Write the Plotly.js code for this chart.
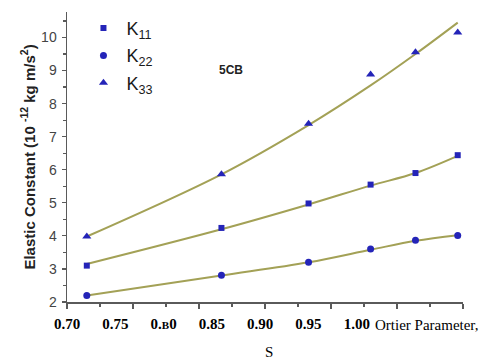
<!DOCTYPE html>
<html><head><meta charset="utf-8">
<script src="https://cdn.plot.ly/plotly-3.0.1.min.js"></script>
<style>html,body{margin:0;padding:0;background:#fff}#chart{width:483px;height:360px}</style>
</head><body><div id="chart"></div>
<script>
// Order parameter S and elastic constants of 5CB (units of 10^-12 kg m/s^2)
const orderS = [0.715, 0.817, 0.883, 0.930, 0.964, 0.996];
const k11 = [3.10, 4.24, 4.98, 5.55, 5.90, 6.44];
const k22 = [2.20, 2.81, 3.20, 3.60, 3.87, 4.01];
const k33 = [3.98, 5.86, 7.39, 8.88, 9.55, 10.15];
// fitted curves, read at the same S values
const fitK11 = [3.15, 4.20, 4.95, 5.52, 5.90, 6.42];
const fitK22 = [2.20, 2.80, 3.20, 3.58, 3.85, 4.02];
const fitK33 = [3.98, 5.86, 7.35, 8.55, 9.50, 10.45];
// printed scale under the axis
const labelVals = [0.70, 0.75, 0.80, 0.85, 0.90, 0.95, 1.00];
const labelText = ['0.70', '0.75', '0.<span style="font-size:11px">B</span>0', '0.85', '0.90', '0.95', '1.00'];

const markerBlue = '#2424b8';
const fitColor = '#a3a156';

function fit(y) {
  return {x: orderS, y: y, mode: 'lines', line: {color: fitColor, width: 2, shape: 'spline', smoothing: 1},
          showlegend: false, hoverinfo: 'skip'};
}
function pts(y, sym, size, name) {
  return {x: orderS, y: y, mode: 'markers', name: name, legendgroup: name,
          marker: {symbol: sym, size: size, color: markerBlue, line: {width: 0}}};
}

const data = [
  fit(fitK11), fit(fitK22), fit(fitK33),
  pts(k11, 'square', 6, 'K<sub>11</sub>'),
  pts(k22, 'circle', 7, 'K<sub>22</sub>'),
  pts(k33, 'triangle-up', 8, 'K<sub>33</sub>'),
  {x: [], y: [], xaxis: 'x2', mode: 'markers', showlegend: false, hoverinfo: 'skip'}
];

const axisGray = '#5a5a5a';
const sans = 'Arial, Liberation Sans, sans-serif';
const serif = 'Liberation Serif, Times New Roman, serif';
const layout = {
  width: 483, height: 360,
  margin: {l: 67, r: 20, t: 11, b: 58},
  paper_bgcolor: '#fff', plot_bgcolor: '#fff',
  showlegend: true,
  legend: {x: 0.034, y: 1.004, xanchor: 'left', yanchor: 'top', bgcolor: 'rgba(0,0,0,0)',
           itemwidth: 36, tracegroupgap: 1,
           font: {family: sans, size: 18, color: '#1a1a1a'}},
  xaxis: {
    range: [0.70, 1.00], dtick: 0.05, tick0: 0.70,
    showgrid: false, zeroline: false, showline: true, linecolor: axisGray, linewidth: 1.5,
    ticks: 'outside', ticklen: 5, tickwidth: 1.2, tickcolor: axisGray,
    minor: {dtick: 0.025, ticks: 'outside', ticklen: 3, tickcolor: axisGray, showgrid: false},
    showticklabels: false
  },
  xaxis2: {
    overlaying: 'x', anchor: 'y', side: 'bottom',
    range: [0.70, 1.11], tickmode: 'array', tickvals: labelVals, ticktext: labelText,
    showgrid: false, zeroline: false, showline: false, ticks: '',
    ticklabelstandoff: 11,
    tickfont: {family: serif, size: 15, color: '#000', weight: 'bold'}
  },
  yaxis: {
    range: [2, 10.77], dtick: 1, tick0: 2,
    showgrid: false, zeroline: false, showline: true, linecolor: axisGray, linewidth: 1.5,
    ticks: 'outside', ticklen: 4, tickwidth: 1.2, tickcolor: axisGray,
    minor: {dtick: 0.5, ticks: 'outside', ticklen: 2.5, tickcolor: axisGray, showgrid: false},
    tickfont: {family: sans, size: 14, color: '#444'},
    ticklabelstandoff: 2,
    title: {text: 'Elastic Constant (10 <sup>-12</sup> kg m/s<sup>2</sup>)', standoff: 2,
            font: {family: sans, size: 15, color: '#222', weight: 'bold'}}
  },
  annotations: [
    {text: '5CB', xref: 'paper', yref: 'paper', x: 0.414, y: 0.80, xanchor: 'center', yanchor: 'middle',
     showarrow: false, font: {family: sans, size: 12, color: '#222', weight: 'bold'}},
    {text: 'Ortier Parameter,', xref: 'paper', yref: 'paper', x: 0.773, y: -0.080,
     xanchor: 'left', yanchor: 'middle', showarrow: false,
     font: {family: serif, size: 15, color: '#000'}},
    {text: 'S', xref: 'paper', yref: 'paper', x: 0.510, y: -0.171,
     xanchor: 'center', yanchor: 'middle', showarrow: false,
     font: {family: serif, size: 15, color: '#000'}}
  ]
};

Plotly.newPlot('chart', data, layout, {displayModeBar: false, staticPlot: true});
</script>
</body></html>
